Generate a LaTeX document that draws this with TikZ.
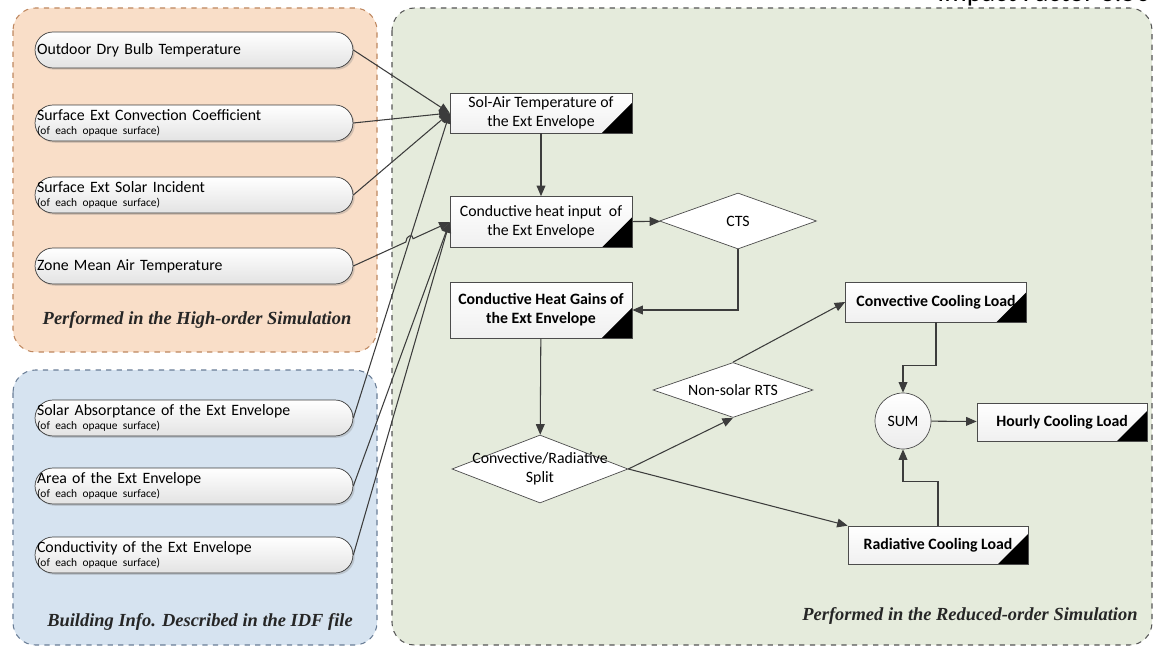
\documentclass[tikz,border=0pt]{standalone}
\usepackage{fontspec}
\setmainfont{Carlito}
\newfontfamily\capfont{Liberation Serif}
\usetikzlibrary{arrows.meta, calc, positioning, shapes.geometric, shadows}
\definecolor{hiorange}{RGB}{249,222,200}
\definecolor{hiorangeline}{RGB}{190,135,95}
\definecolor{idfblue}{RGB}{214,227,240}
\definecolor{idfblueline}{RGB}{105,125,150}
\definecolor{rogreen}{RGB}{229,235,220}
\definecolor{rogreenline}{RGB}{85,85,85}
\definecolor{linkgray}{RGB}{60,60,60}

\begin{document}
\begin{tikzpicture}
  [x=0.02cm, y=-0.02cm,
   zonebox/.style={dashed, rounded corners=0.45cm, line width=0.6pt},
   inputpill/.style={draw=linkgray, rounded corners=0.36cm, top color=white, bottom color=gray!22,
     minimum width=6.36cm, minimum height=0.72cm, text width=6.28cm, inner xsep=0.04cm, inner ysep=0pt,
     align=left, font=\fontsize{9}{10}\selectfont,
     drop shadow={opacity=0.3, shadow xshift=1pt, shadow yshift=-1pt}},
   process/.style={draw=gray!60!black, top color=white, bottom color=gray!12, minimum width=3.64cm,
     minimum height=0.8cm, align=center, inner sep=1pt, font=\fontsize{9}{11}\selectfont,
     path picture={\fill[black] (path picture bounding box.south east) -- ++(-0.6cm,0) -- ++(0.6cm,0.6cm) -- cycle;}},
   decision/.style={diamond, draw=gray!60!black, fill=white, inner sep=0pt},
   dtext/.style={align=center, font=\fontsize{9}{11}\selectfont},
   flow/.style={draw=linkgray, line width=0.6pt, -{Triangle[length=6pt,width=5pt]}},
   caption/.style={font=\capfont\bfseries\itshape\fontsize{10.5}{12}\selectfont, text=black!85}]
  \useasboundingbox (0,0) rectangle (1155,648);
  \begin{scope}
    \clip (0,0) rectangle (1155,648);
    \node[anchor=base west, inner sep=0pt, font=\fontsize{16}{19}\selectfont] (header) at (937,2) {Impact Factor 3.50};
  \end{scope}

  \draw[zonebox, draw=hiorangeline, fill=hiorange] (13,8) rectangle (377,352);
  \draw[zonebox, draw=idfblueline, fill=idfblue] (13,370) rectangle (377,645);
  \draw[zonebox, draw=rogreenline, fill=rogreen] (392,8) rectangle (1152,645);

  \node[inputpill] (odb) at (194,50) {Outdoor Dry Bulb Temperature};
  \node[inputpill] (extconv) at (194,123) {Surface Ext Convection Coefficient\\[-2pt]{\fontsize{6.5}{7}\selectfont(of each opaque surface)}};
  \node[inputpill] (solinc) at (194,195) {Surface Ext Solar Incident\\[-2pt]{\fontsize{6.5}{7}\selectfont(of each opaque surface)}};
  \node[inputpill] (zonemat) at (194,266) {Zone Mean Air Temperature};
  \node[caption] (high) at (197,320) {Performed in the High-order Simulation};

  \node[inputpill] (absorp) at (194,418) {Solar Absorptance of the Ext Envelope\\[-2pt]{\fontsize{6.5}{7}\selectfont(of each opaque surface)}};
  \node[inputpill] (envarea) at (194,486) {Area of the Ext Envelope\\[-2pt]{\fontsize{6.5}{7}\selectfont(of each opaque surface)}};
  \node[inputpill] (envcond) at (194,555) {Conductivity of the Ext Envelope\\[-2pt]{\fontsize{6.5}{7}\selectfont(of each opaque surface)}};
  \node[caption] (idf) at (200,622) {Building Info. Described in the IDF file};

  \node[process] (solair) at (541,113) {Sol-Air Temperature of\\the Ext Envelope};
  \node[process, minimum height=1.02cm] (condin) at (541,222) {Conductive heat input~~of\\the Ext Envelope};
  \node[process, minimum height=1.12cm, font=\fontsize{9}{11}\selectfont\bfseries] (gains) at (541,310) {Conductive Heat Gains of\\the Ext Envelope};
  \node[decision, minimum width=3.14cm, minimum height=1.12cm, label={[dtext]center:CTS}] (cts) at (738,221) {};
  \node[decision, minimum width=3.52cm, minimum height=1.36cm, label={[dtext]center:Convective/Radiative\\Split}] (split) at (540,469) {};
  \node[decision, minimum width=3.2cm, minimum height=1.1cm, label={[dtext]center:Non-solar RTS}] (rts) at (733,390) {};
  \node[process, minimum width=3.62cm, font=\fontsize{9}{11}\selectfont\bfseries] (convload) at (936,302) {Convective Cooling Load};
  \node[process, minimum width=3.6cm, minimum height=0.76cm, font=\fontsize{9}{11}\selectfont\bfseries] (radload) at (938,545) {Radiative Cooling Load};
  \node[circle, draw=gray!60!black, top color=white, bottom color=gray!15, minimum size=1.12cm, inner sep=0pt, font=\fontsize{9}{11}\selectfont] (sum) at (903,421) {SUM};
  \node[process, minimum width=3.4cm, minimum height=0.76cm, font=\fontsize{9}{11}\selectfont\bfseries] (hourly) at (1062,422) {Hourly Cooling Load};
  \node[caption] (reduced) at (970,616) {Performed in the Reduced-order Simulation};

  \draw[flow] (odb.east) -- (solair.west);
  \draw[flow] (extconv.east) -- (solair.west);
  \draw[flow] (solinc.east) -- (solair.west);
  \draw[flow] (absorp.east) -- (solair.west);
  \draw[flow] (zonemat.east) -- ($(zonemat.east)!0.545!(condin.west)$)
    .. controls +(0,-6) and +(0,-6) .. ($(zonemat.east)!0.62!(condin.west)$) -- (condin.west);
  \draw[flow] (envarea.east) -- (condin.west);
  \draw[flow] (envcond.east) -- (condin.west);

  \draw[flow] (solair) -- (condin);
  \draw[flow] (condin) -- (cts);
  \draw[flow] (cts.south) |- (gains.east);
  \draw[flow] (gains) -- (split);
  \draw[flow] (split.east) -- (rts.south);
  \draw[flow] (rts.north) -- (convload.west);
  \draw[flow] (split.east) -- (radload.north west);
  \draw[flow] (convload.south) -- ++(0,43) -| (sum.north);
  \draw[flow] (radload.north) -- ++(0,-44) -| (sum.south);
  \draw[flow] (sum) -- (hourly);
\end{tikzpicture}
\end{document}
